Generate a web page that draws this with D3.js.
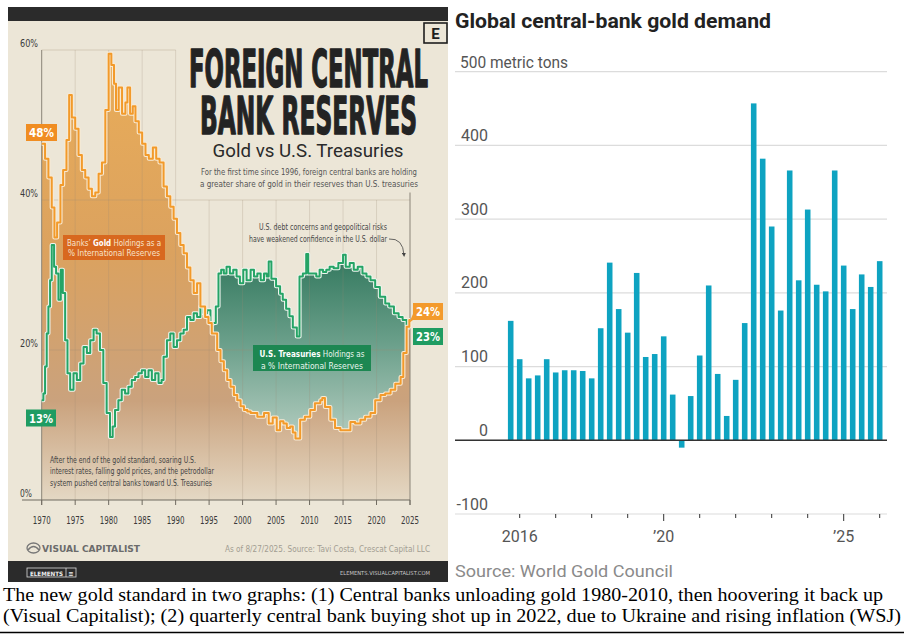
<!DOCTYPE html>
<html>
<head>
<meta charset="utf-8">
<title>gold</title>
<script src="https://cdn.jsdelivr.net/npm/d3@7"></script>
<style>
	body { margin: 0; background: #fff; }
	svg { display: block; }
</style>
</head>
<body>
<script>
// --- left chart (Visual Capitalist): share of reserves, % ---
var goldHoldings = [[1970,47.5],[1970.5,45.5],[1971,43],[1971.5,39],[1971.9,35],[1972.3,37],[1972.8,42],[1973.2,44],[1973.7,48],[1974.1,54],[1974.5,51],[1975,49.5],[1975.5,46],[1976,44],[1976.5,43],[1977,41.5],[1977.5,40.5],[1978,41],[1978.5,43.5],[1979,45],[1979.5,52],[1980,59.5],[1980.4,58],[1980.8,55.5],[1981.1,52],[1981.5,55],[1982,51.5],[1982.5,53],[1982.8,55],[1983.2,51.5],[1983.6,52.5],[1984,50.5],[1984.5,49],[1985,47.5],[1985.5,46],[1986,45.5],[1986.6,47],[1987.1,45.5],[1987.6,45],[1988.2,41.8],[1988.7,40.5],[1989.2,39.1],[1989.7,37.5],[1990.2,35.6],[1990.7,34],[1991.2,32.9],[1991.7,31],[1992.2,29.3],[1992.7,27.6],[1993.2,28.9],[1993.7,25.8],[1994.4,24.4],[1994.9,23.6],[1995.4,22.2],[1996.2,20],[1996.7,18.5],[1997.2,17.3],[1997.7,16],[1998.2,15.1],[1998.7,14],[1999.2,13.3],[1999.7,12.5],[2000.2,12],[2000.7,11.8],[2001.2,11.6],[2002.2,11.1],[2003.2,11.6],[2003.9,10.2],[2004.5,11],[2005.1,9.3],[2005.6,10.5],[2006.1,10.2],[2006.6,9.6],[2007.1,9.8],[2007.5,9],[2007.9,8.2],[2008.6,10.7],[2009.3,11.1],[2010.1,12],[2010.8,12.9],[2011.6,13.3],[2011.9,13.6],[2012.3,12.4],[2013.1,10.7],[2013.8,9.6],[2014.6,9.3],[2015.3,9.3],[2016.1,10.4],[2016.8,10.2],[2017.6,10.7],[2018.3,11.1],[2019.1,11.6],[2019.8,13.3],[2020.6,14],[2021.3,14.2],[2022.1,14.7],[2022.8,15.5],[2023.6,16.4],[2024,19.6],[2024.5,23.1],[2024.9,24],[2025,24]]

var treasuryHoldings = [[1970,13.3],[1970.25,14.2],[1970.5,17.8],[1970.75,22.2],[1971,25.8],[1971.25,29.3],[1971.5,34],[1971.85,31.1],[1972.15,30.2],[1972.5,26.7],[1972.85,30.7],[1973.15,27.6],[1973.5,21.3],[1973.85,16.9],[1974.25,14.7],[1974.75,16.9],[1975.25,16],[1975.75,18.2],[1976.25,20.4],[1976.75,19.6],[1977.25,21.3],[1977.75,22.7],[1978.2,22.2],[1978.7,20],[1979.2,15.6],[1979.7,11.6],[1980.2,8.4],[1980.6,9.8],[1980.95,12],[1981.45,13.3],[1981.95,14.7],[1982.45,14.2],[1982.95,15.1],[1983.45,16],[1983.95,16.4],[1984.45,16.9],[1984.95,17.3],[1985.45,16.4],[1985.95,17.3],[1986.45,16],[1986.95,16.9],[1987.45,15.6],[1987.9,16],[1988.2,19.1],[1988.7,21.3],[1989.2,22.2],[1989.7,20.4],[1990.2,21.3],[1990.7,22.2],[1991.2,22.7],[1991.7,24.4],[1992.2,24],[1992.7,24.9],[1993.2,24.4],[1993.7,25.8],[1994.2,24.9],[1994.7,25.3],[1995.2,23.5],[1995.6,23.6],[1996,25.8],[1996.4,30.2],[1996.8,30.7],[1997.2,30.2],[1997.6,31.1],[1998.1,30.2],[1998.6,30.7],[1999.1,29.8],[1999.6,28.9],[2000.1,30.7],[2000.6,29.3],[2001.2,30.7],[2001.7,29.8],[2002.2,30.2],[2002.7,29.3],[2003.2,30.2],[2003.6,29.8],[2003.9,31.8],[2004.3,29.5],[2005,28.5],[2005.6,27.5],[2006,26.7],[2006.5,25.5],[2007,24.5],[2007.5,23],[2008.1,21.8],[2008.5,29.8],[2009,30.2],[2009.5,32.8],[2009.8,30.2],[2010.5,30.2],[2011,29.8],[2011.5,30.7],[2012,30.4],[2012.5,30.7],[2013,31.1],[2013.6,30.9],[2014.3,31.6],[2015,32.7],[2015.4,31.1],[2016,31.6],[2016.6,30.7],[2017.2,31.1],[2017.9,30.2],[2018.5,29.8],[2019.1,29.3],[2019.8,28.4],[2020.5,27.1],[2021.3,26.2],[2021.9,25.8],[2022.6,24.9],[2023.3,24.4],[2023.9,24],[2024.5,23.3],[2024.9,23],[2025,23]]

var leftYearTicks = [1970,1975,1980,1985,1990,1995,2000,2005,2010,2015,2020,2025]
var leftPctTicks = [0,20,40,60]

// --- right chart (WSJ): quarterly central-bank gold demand, metric tons ---
var quarters = ["2015Q4",
	"2016Q1","2016Q2","2016Q3","2016Q4","2017Q1","2017Q2","2017Q3","2017Q4",
	"2018Q1","2018Q2","2018Q3","2018Q4","2019Q1","2019Q2","2019Q3","2019Q4",
	"2020Q1","2020Q2","2020Q3","2020Q4","2021Q1","2021Q2","2021Q3","2021Q4",
	"2022Q1","2022Q2","2022Q3","2022Q4","2023Q1","2023Q2","2023Q3","2023Q4",
	"2024Q1","2024Q2","2024Q3","2024Q4","2025Q1","2025Q2","2025Q3","2025Q4",
	"2026Q1"]
var demand = [162,110,84,88,110,92,95,95,94,84,152,241,178,146,227,113,117,141,62,-10,60,115,210,90,33,82,159,457,382,290,176,366,217,313,211,202,366,237,178,225,208,243]
var rightYTicks = [-100,0,100,200,300,400,500]
var rightXTicks = ["2016Q1","2017Q1","2018Q1","2019Q1","2020Q1","2021Q1","2022Q1","2023Q1","2024Q1","2025Q1","2026Q1"]
var rightXLabels = {"2016Q1": "2016", "2020Q1": "\u201920", "2025Q1": "\u201925"}

var width = 914
var height = 638
var cond = "'DejaVu Sans Condensed','DejaVu Sans',sans-serif"
var wsj = "Roboto,'Noto Sans',sans-serif"

var svg = d3.select("body").append("svg")
	.attr("width", width)
	.attr("height", height)
var defs = svg.append("defs")

function label(g, x, y, s, o) {
	o = o || {}
	var t = g.append("text")
		.attr("x", x)
		.attr("y", y)
		.attr("font-family", o.family || cond)
		.attr("font-size", o.size || 10)
		.attr("font-weight", o.weight || "normal")
		.attr("fill", o.fill || "#333")
		.attr("text-anchor", o.anchor || "start")
		.text(s)
	if (o.len) t.attr("textLength", o.len).attr("lengthAdjust", "spacingAndGlyphs")
	if (o.stroke) t.attr("stroke", o.fill).attr("stroke-width", o.stroke).attr("stroke-linejoin", "round")
	return t
}

// ================= LEFT: Visual Capitalist panel =================
var L = svg.append("g")
L.append("rect").attr("x", 8).attr("y", 7).attr("width", 440).attr("height", 575).attr("fill", "#2b2b2b")
L.append("rect").attr("x", 8).attr("y", 21).attr("width", 440).attr("height", 540).attr("fill", "#ece6d7")

var xL = d3.scaleLinear().domain([1970, 2025]).range([41.7, 410])
var yL = d3.scaleLinear().domain([0, 60]).range([500, 50])

var gGold = defs.append("linearGradient").attr("id", "goldFill")
	.attr("gradientUnits", "userSpaceOnUse").attr("x1", 0).attr("x2", 0).attr("y1", yL(60)).attr("y2", yL(0))
gGold.append("stop").attr("offset", 0).attr("stop-color", "#eaad58")
gGold.append("stop").attr("offset", 0.45).attr("stop-color", "#dba25f")
gGold.append("stop").attr("offset", 0.78).attr("stop-color", "#caa27d")
gGold.append("stop").attr("offset", 1).attr("stop-color", "#e4d8c4")

var gGreen = defs.append("linearGradient").attr("id", "greenFill")
	.attr("gradientUnits", "userSpaceOnUse").attr("x1", 0).attr("x2", 0).attr("y1", yL(32)).attr("y2", yL(10))
gGreen.append("stop").attr("offset", 0).attr("stop-color", "#357a60")
gGreen.append("stop").attr("offset", 0.5).attr("stop-color", "#6a9f8a")
gGreen.append("stop").attr("offset", 1).attr("stop-color", "#a9c6b8")

// clip: region above the gold line, so the green fill only shows where treasuries > gold
defs.append("clipPath").attr("id", "aboveGold")
	.append("path")
	.attr("d", d3.area()
		.x(function(d) { return xL(d[0]) })
		.y0(yL(60))
		.y1(function(d) { return yL(d[1]) })
		.curve(d3.curveStepAfter)(goldHoldings))

L.append("path")
	.attr("d", d3.area()
		.x(function(d) { return xL(d[0]) })
		.y0(yL(0))
		.y1(function(d) { return yL(d[1]) })
		.curve(d3.curveStepAfter)(goldHoldings))
	.attr("fill", "url(#goldFill)")

L.append("path")
	.attr("d", d3.area()
		.x(function(d) { return xL(d[0]) })
		.y0(yL(0))
		.y1(function(d) { return yL(d[1]) })
		.curve(d3.curveStepAfter)(treasuryHoldings))
	.attr("fill", "url(#greenFill)")
	.attr("clip-path", "url(#aboveGold)")

// grid
L.selectAll("line.vg")
	.data(leftYearTicks.slice(1, -1))
	.enter().append("line")
	.attr("class", "vg")
	.attr("x1", function(d) { return xL(d) })
	.attr("x2", function(d) { return xL(d) })
	.attr("y1", function(d) { return d <= 1990 ? yL(60) : yL(40) })
	.attr("y2", yL(0))
	.attr("stroke", "#9c8c74")
	.attr("stroke-opacity", 0.3)
	.attr("stroke-width", 0.8)

L.selectAll("line.hg")
	.data(leftPctTicks.slice(1))
	.enter().append("line")
	.attr("class", "hg")
	.attr("x1", xL(1970))
	.attr("x2", function(d) { return d == 60 ? xL(1990) : xL(2025) })
	.attr("y1", function(d) { return yL(d) })
	.attr("y2", function(d) { return yL(d) })
	.attr("stroke", "#9c8c74")
	.attr("stroke-opacity", 0.4)
	.attr("stroke-width", 0.8)

L.append("line").attr("x1", xL(1970)).attr("x2", xL(1970)).attr("y1", yL(60)).attr("y2", yL(0) + 5)
	.attr("stroke", "#8a8478").attr("stroke-width", 1)
L.append("line").attr("x1", xL(2025)).attr("x2", xL(2025)).attr("y1", yL(41)).attr("y2", yL(0) + 5)
	.attr("stroke", "#8a8478").attr("stroke-width", 1)

// lines
function stepLine(data) {
	return d3.line()
		.x(function(d) { return xL(d[0]) })
		.y(function(d) { return yL(d[1]) })
		.curve(d3.curveStepAfter)(data)
}
L.append("path").attr("d", stepLine(treasuryHoldings)).attr("fill", "none")
	.attr("stroke", "#eef5ee").attr("stroke-width", 4.2).attr("stroke-linejoin", "round")
L.append("path").attr("d", stepLine(treasuryHoldings)).attr("fill", "none")
	.attr("stroke", "#25a466").attr("stroke-width", 2).attr("stroke-linejoin", "round")
L.append("path").attr("d", stepLine(goldHoldings)).attr("fill", "none")
	.attr("stroke", "#f8ead4").attr("stroke-width", 4.2).attr("stroke-linejoin", "round")
L.append("path").attr("d", stepLine(goldHoldings)).attr("fill", "none")
	.attr("stroke", "#f29a2a").attr("stroke-width", 2).attr("stroke-linejoin", "round")

// x axis
L.append("line").attr("x1", 22).attr("x2", xL(2025)).attr("y1", yL(0)).attr("y2", yL(0))
	.attr("stroke", "#6f6a60").attr("stroke-width", 1)
L.selectAll("line.xt")
	.data(leftYearTicks)
	.enter().append("line")
	.attr("class", "xt")
	.attr("x1", function(d) { return xL(d) })
	.attr("x2", function(d) { return xL(d) })
	.attr("y1", yL(0))
	.attr("y2", yL(0) + 5)
	.attr("stroke", "#6f6a60")
leftYearTicks.forEach(function(d) {
	label(L, xL(d), yL(0) + 24, d, { size: 11, anchor: "middle", fill: "#3a3a3a", len: 18 })
})
leftPctTicks.forEach(function(d) {
	label(L, 20, yL(d) - 3.5, d + "%", { size: 10, fill: "#3a3a3a", len: d == 0 ? 12 : 18 })
})

// title block
label(L, 189, 87, "FOREIGN CENTRAL", { size: 51, weight: "bold", fill: "#232323", len: 239, stroke: 1.4 })
label(L, 200, 134, "BANK RESERVES", { size: 51, weight: "bold", fill: "#232323", len: 217, stroke: 1.4 })
label(L, 308, 157, "Gold vs U.S. Treasuries", { size: 19, fill: "#2a2a2a", anchor: "middle", len: 191, family: "Roboto,sans-serif" })
label(L, 309, 175, "For the first time since 1996, foreign central banks are holding", { size: 8.5, fill: "#555", anchor: "middle", len: 216 })
label(L, 309, 186.5, "a greater share of gold in their reserves than U.S. treasuries", { size: 8.5, fill: "#555", anchor: "middle", len: 218 })

// E logo
L.append("rect").attr("x", 424).attr("y", 23).attr("width", 23).attr("height", 20)
	.attr("fill", "#ece6d7").attr("stroke", "#1e1e1e").attr("stroke-width", 1.6)
label(L, 435.5, 39, "E", { size: 15, weight: "bold", fill: "#1e1e1e", anchor: "middle", family: "Roboto,sans-serif" })

// value badges
function badge(x, y, w, s, fill) {
	L.append("rect").attr("x", x).attr("y", y).attr("width", w).attr("height", 17).attr("fill", fill)
	label(L, x + w / 2, y + 13, s, { size: 13, weight: "bold", fill: "#fff", anchor: "middle", len: w - 6 })
}
badge(26, yL(48) - 16, 31, "48%", "#f08d22")
badge(26, yL(13) + 7, 30, "13%", "#1f9c62")
badge(413, yL(24) - 17, 30, "24%", "#f39a2c")
badge(413, yL(23) + 0.5, 30, "23%", "#1f9c62")
L.append("path")
	.attr("d", "M" + (xL(2025) + 3) + "," + (yL(24) - 6) + " L" + (xL(2025) + 3) + "," + yL(24) + " L" + (xL(2025) - 1) + "," + (yL(24) + 3) + " Z")
	.attr("fill", "#f39a2c")

// series labels
L.append("rect").attr("x", 63).attr("y", 235).attr("width", 102).attr("height", 25).attr("fill", "#d8681f")
var t1 = label(L, 67, 245.5, "", { size: 9.5, fill: "#f7e4cc", len: 94 })
t1.append("tspan").text("Banks\u2019 ")
t1.append("tspan").attr("font-weight", "bold").attr("fill", "#fff").text("Gold")
t1.append("tspan").text(" Holdings as a")
label(L, 68, 256, "% International Reserves", { size: 9.5, fill: "#f7e4cc", len: 92 })

L.append("rect").attr("x", 253).attr("y", 345).attr("width", 118).attr("height", 26).attr("fill", "#1d8752")
var t2 = label(L, 312, 357, "", { size: 9.5, fill: "#eaf5ee", anchor: "middle", len: 105 })
t2.append("tspan").attr("font-weight", "bold").attr("fill", "#fff").text("U.S. Treasuries")
t2.append("tspan").text(" Holdings as")
label(L, 312, 368.5, "a % International Reserves", { size: 9.5, fill: "#eaf5ee", anchor: "middle", len: 102 })

// annotations
label(L, 387, 230, "U.S. debt concerns and geopolitical risks", { size: 8.5, fill: "#474747", anchor: "end", len: 128 })
label(L, 387, 242, "have weakened confidence in the U.S. dollar", { size: 8.5, fill: "#474747", anchor: "end", len: 138 })
defs.append("marker").attr("id", "arr").attr("viewBox", "0 0 6 6").attr("refX", 3).attr("refY", 3)
	.attr("markerWidth", 5).attr("markerHeight", 5).attr("orient", "auto")
	.append("path").attr("d", "M0,0 L6,3 L0,6 Z").attr("fill", "#444")
L.append("path").attr("d", "M389,239 Q403,238 404,255")
	.attr("fill", "none").attr("stroke", "#444").attr("stroke-width", 0.8).attr("marker-end", "url(#arr)")

label(L, 50, 463, "After the end of the gold standard, soaring U.S.", { size: 8.8, fill: "#454545", len: 146 })
label(L, 50, 474, "interest rates, falling gold prices, and the petrodollar", { size: 8.8, fill: "#454545", len: 164 })
label(L, 50, 485.5, "system pushed central banks toward U.S. Treasuries", { size: 8.8, fill: "#454545", len: 162 })

// footer
L.append("ellipse").attr("cx", 33.5).attr("cy", 548).attr("rx", 6.5).attr("ry", 5).attr("fill", "none").attr("stroke", "#777").attr("stroke-width", 1.3)
L.append("path").attr("d", "M28,550 Q33.5,543 39,550").attr("fill", "none").attr("stroke", "#777").attr("stroke-width", 1.3)
label(L, 42, 552, "VISUAL CAPITALIST", { size: 8.5, weight: "bold", fill: "#6b6b6b", len: 98, family: "'DejaVu Sans',sans-serif" })
label(L, 430, 552, "As of 8/27/2025. Source: Tavi Costa, Crescat Capital LLC", { size: 8, fill: "#a29d92", anchor: "end", len: 205 })
L.append("rect").attr("x", 27).attr("y", 568).attr("width", 49).attr("height", 9).attr("fill", "none").attr("stroke", "#ddd").attr("stroke-width", 0.8)
L.append("line").attr("x1", 66).attr("x2", 66).attr("y1", 568).attr("y2", 577).attr("stroke", "#ddd").attr("stroke-width", 0.8)
label(L, 46.5, 575.5, "ELEMENTS", { size: 6, weight: "bold", fill: "#eee", anchor: "middle", len: 33 })
label(L, 71, 575.5, "\u2261", { size: 7, weight: "bold", fill: "#eee", anchor: "middle" })
label(L, 430, 575, "ELEMENTS.VISUALCAPITALIST.COM", { size: 5.5, fill: "#c8c8c8", anchor: "end", len: 90 })

// ================= RIGHT: WSJ bar chart =================
var R = svg.append("g")
var yR = d3.scaleLinear().domain([-100, 500]).range([514, 71.7])
var xR = d3.scaleBand().domain(quarters).range([506.2, 884.2]).paddingInner(0.38).paddingOuter(0.19)

label(R, 455, 28, "Global central-bank gold demand", { size: 21, weight: "bold", fill: "#222", family: wsj, len: 316 })

R.selectAll("line.grid")
	.data(rightYTicks)
	.enter().append("line")
	.attr("class", "grid")
	.attr("x1", 455)
	.attr("x2", 887)
	.attr("y1", function(d) { return yR(d) })
	.attr("y2", function(d) { return yR(d) })
	.attr("stroke", "#dcdcdc")
	.attr("stroke-width", 1.2)

rightYTicks.forEach(function(d) {
	if (d == 500) label(R, 460, yR(d) - 4, "500 metric tons", { size: 16, fill: "#555", family: wsj, len: 108 })
	else label(R, 488, yR(d) - 4.5, String(d), { size: 16, fill: "#555", family: wsj, anchor: "end" })
})

R.selectAll("rect.bar")
	.data(demand)
	.enter().append("rect")
	.attr("class", "bar")
	.attr("x", function(d, i) { return xR(quarters[i]) })
	.attr("width", xR.bandwidth())
	.attr("y", function(d) { return yR(Math.max(0, d)) })
	.attr("height", function(d) { return Math.abs(yR(d) - yR(0)) })
	.attr("fill", "#0ea3c1")

R.append("line").attr("x1", 455).attr("x2", 887).attr("y1", yR(0)).attr("y2", yR(0))
	.attr("stroke", "#333").attr("stroke-width", 1.5)

R.selectAll("line.xt")
	.data(rightXTicks)
	.enter().append("line")
	.attr("class", "xt")
	.attr("x1", function(d) { return xR(d) + xR.bandwidth() / 2 })
	.attr("x2", function(d) { return xR(d) + xR.bandwidth() / 2 })
	.attr("y1", yR(-100))
	.attr("y2", function(d) { return d == "2020Q1" || d == "2025Q1" ? yR(-100) + 7 : yR(-100) + 4 })
	.attr("stroke", "#333")
	.attr("stroke-width", 1)

rightXTicks.forEach(function(d) {
	if (rightXLabels[d]) label(R, xR(d) + xR.bandwidth() / 2, 542, rightXLabels[d], { size: 16, fill: "#555", family: wsj, anchor: "middle" })
})

label(R, 455, 577, "Source: World Gold Council", { size: 17, fill: "#8a8a8a", family: wsj, len: 218 })

// ================= caption =================
var serif = "'Liberation Serif','Times New Roman',serif"
label(svg, 3, 601, "The new gold standard in two graphs: (1) Central banks unloading gold 1980-2010, then hoovering it back up", { size: 19, fill: "#000", family: serif, len: 880 })
label(svg, 3, 622, "(Visual Capitalist); (2) quarterly central bank buying shot up in 2022, due to Ukraine and rising inflation (WSJ)", { size: 19, fill: "#000", family: serif, len: 898 })
svg.append("line").attr("x1", 0).attr("x2", 904).attr("y1", 632.5).attr("y2", 632.5).attr("stroke", "#000").attr("stroke-width", 1.6)
</script>
</body>
</html>
